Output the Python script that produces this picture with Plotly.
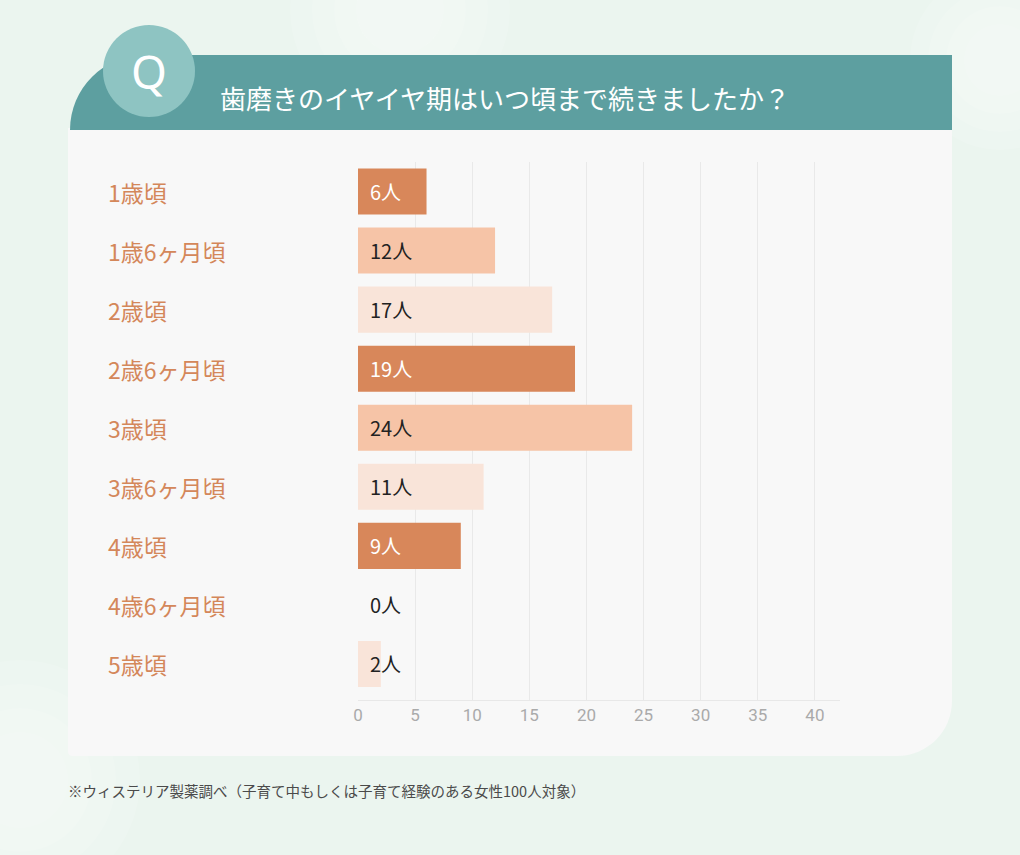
import plotly.graph_objects as go

categories = ["1歳頃", "1歳6ヶ月頃", "2歳頃", "2歳6ヶ月頃", "3歳頃",
              "3歳6ヶ月頃", "4歳頃", "4歳6ヶ月頃", "5歳頃"]
values = [6, 12, 17, 19, 24, 11, 9, 0, 2]
x_ticks = [0, 5, 10, 15, 20, 25, 30, 35, 40]
title_text = "歯磨きのイヤイヤ期はいつ頃まで続きましたか？"
note_text = "※ウィステリア製薬調べ（子育て中もしくは子育て経験のある女性100人対象）"

palette = ["#d8875a", "#f6c4a7", "#f9e4d9"]
bar_colors = [palette[i % 3] for i in range(len(values))]
label_colors = ["#ffffff" if i % 3 == 0 else "#222222" for i in range(len(values))]

FW, FH = 1020, 855
L, R, T, B = 358, 840, 162, 700
PW, PH = R - L, B - T

def px(x):
    return (x - L) / PW

def py(y):
    return (B - y) / PH

CJK = "Noto Sans CJK JP"

fig = go.Figure()
fig.add_trace(go.Bar(
    x=values, y=categories, orientation="h",
    marker=dict(color=bar_colors, line=dict(width=0)),
    hoverinfo="skip",
))

shapes = []
# soft background blotches (layered low-opacity circles for a soft edge)
for (cx, cy, r) in [(20, 780, 120), (400, 10, 110), (1000, 60, 90)]:
    for f in [1.0, 0.8, 0.6, 0.4]:
        rr_ = r * f
        shapes.append(dict(type="circle", xref="paper", yref="paper", layer="below",
                           x0=px(cx - rr_), x1=px(cx + rr_), y0=py(cy + rr_), y1=py(cy - rr_),
                           fillcolor="rgba(255,255,255,0.12)", line=dict(width=0)))
# white panel with rounded bottom-right corner
rr = 55
k = 0.5523
panel = (f"M {px(68)},{py(128)} L {px(952)},{py(128)} L {px(952)},{py(756 - rr)} "
         f"C {px(952)},{py(756 - rr + rr * k)} {px(952 - rr + rr * k)},{py(756)} {px(952 - rr)},{py(756)} "
         f"L {px(72)},{py(756)} C {px(70)},{py(756)} {px(68)},{py(754)} {px(68)},{py(752)} Z")
shapes.append(dict(type="path", xref="paper", yref="paper", layer="below", path=panel,
                   fillcolor="#f8f8f8", line=dict(width=0)))
# teal header with rounded top-left
hr = 75
header = (f"M {px(70)},{py(130)} C {px(70)},{py(130 - hr * k)} {px(145 - hr * k)},{py(55)} {px(145)},{py(55)} "
          f"L {px(952)},{py(55)} L {px(952)},{py(130)} Z")
shapes.append(dict(type="path", xref="paper", yref="paper", layer="below", path=header,
                   fillcolor="#5d9fa0", line=dict(width=0)))
# Q circle
qcx, qcy, qr = 149, 71, 46
shapes.append(dict(type="circle", xref="paper", yref="paper", layer="below",
                   x0=px(qcx - qr), x1=px(qcx + qr), y0=py(qcy + qr), y1=py(qcy - qr),
                   fillcolor="#8ec4c2", line=dict(width=0)))

annotations = []
annotations.append(dict(xref="paper", yref="paper", x=px(qcx), y=py(qcy), text="Q",
                        showarrow=False, xanchor="center", yanchor="middle",
                        font=dict(family="Noto Sans", size=46, color="#ffffff")))
annotations.append(dict(xref="paper", yref="paper", x=px(218), y=py(97), text=title_text,
                        showarrow=False, xanchor="left", yanchor="middle",
                        font=dict(family=CJK, size=26, color="#ffffff")))
for cat, v, lc in zip(categories, values, label_colors):
    annotations.append(dict(xref="paper", yref="y", x=px(106), y=cat, text=cat,
                            showarrow=False, xanchor="left", yanchor="middle",
                            font=dict(family=CJK, size=23, color="#d4875a")))
    annotations.append(dict(xref="x", yref="y", x=0, y=cat, text=f"{v}人",
                            showarrow=False, xanchor="left", yanchor="middle", xshift=10,
                            font=dict(family=CJK, size=20, color=lc)))
annotations.append(dict(xref="paper", yref="paper", x=px(66), y=py(790), text=note_text,
                        showarrow=False, xanchor="left", yanchor="middle",
                        font=dict(family=CJK, size=14.5, color="#4a4a4a")))

fig.update_layout(
    width=FW, height=FH,
    margin=dict(l=L, r=FW - R, t=T, b=FH - B, pad=0),
    paper_bgcolor="#ebf5ef",
    plot_bgcolor="rgba(0,0,0,0)",
    showlegend=False,
    bargap=0.22,
    shapes=shapes,
    annotations=annotations,
    xaxis=dict(range=[0, 42.2], tickvals=x_ticks, showgrid=True, gridcolor="#e9e9e9",
               gridwidth=1, zeroline=False, showline=True, linecolor="#e8e8e8",
               ticks="", tickfont=dict(family="Roboto", size=17, color="#aaaaaa"),
               fixedrange=True),
    yaxis=dict(categoryorder="array", categoryarray=categories, range=[8.61, -0.5],
               showticklabels=False, showgrid=False, zeroline=False, showline=False,
               ticks="", fixedrange=True),
)

fig.write_html("out.html", config={"displayModeBar": False})
